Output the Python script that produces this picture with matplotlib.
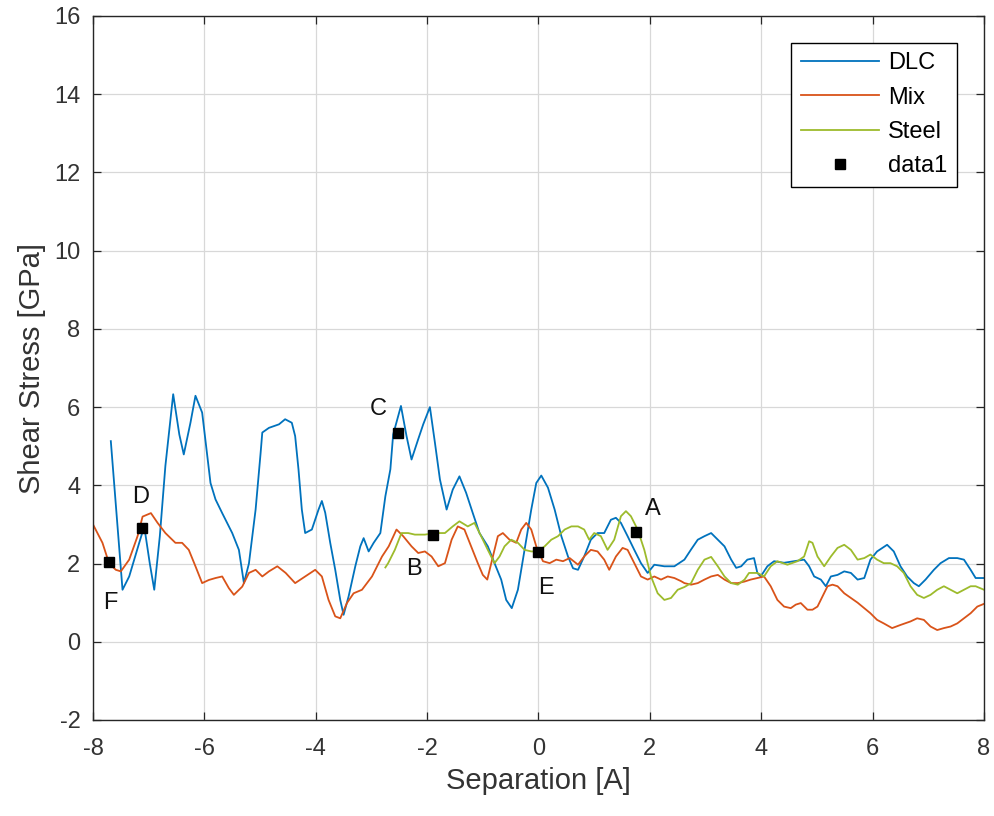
import matplotlib
matplotlib.use("Agg")
import matplotlib.pyplot as plt

plt.rcParams['font.family'] = ['Liberation Sans', 'DejaVu Sans']
plt.rcParams['axes.unicode_minus'] = False

# DLC curve
dlc_x = [-7.68, -7.47, -7.35, -7.17, -7.08, -6.98, -6.90, -6.80, -6.70, -6.56, -6.45, -6.37, -6.25,
         -6.16, -6.04, -5.89, -5.80, -5.68, -5.50, -5.38, -5.29, -5.20, -5.08, -4.99, -4.96, -4.84,
         -4.66, -4.55, -4.43, -4.37, -4.31, -4.25, -4.19, -4.07, -3.95, -3.89, -3.83, -3.74, -3.65,
         -3.56, -3.50, -3.41, -3.29, -3.20, -3.14, -3.05, -2.96, -2.84, -2.75, -2.66, -2.61, -2.47,
         -2.37, -2.28, -2.16, -2.07, -1.95, -1.86, -1.77, -1.65, -1.54, -1.42, -1.30, -1.18, -1.06,
         -0.91, -0.79, -0.67, -0.58, -0.48, -0.37, -0.25, -0.13, -0.04, 0.05, 0.17, 0.29, 0.41,
         0.53, 0.62, 0.71, 0.82, 0.94, 1.06, 1.18, 1.30, 1.39, 1.48, 1.60, 1.72, 1.84, 1.96, 2.08,
         2.26, 2.44, 2.62, 2.74, 2.86, 2.98, 3.10, 3.22, 3.34, 3.46, 3.55, 3.64, 3.75, 3.87, 3.93,
         3.99, 4.11, 4.23, 4.41, 4.59, 4.77, 4.86, 4.95, 5.07, 5.16, 5.25, 5.37, 5.49, 5.61, 5.73,
         5.85, 5.96, 6.08, 6.26, 6.38, 6.50, 6.62, 6.74, 6.83, 6.95, 7.10, 7.22, 7.37, 7.52, 7.64,
         7.76, 7.85, 8.0]
dlc_y = [5.13, 1.33, 1.67, 2.53, 2.95, 2.0, 1.33, 2.7, 4.5, 6.33, 5.3, 4.79, 5.6,
         6.29, 5.86, 4.06, 3.64, 3.29, 2.78, 2.35, 1.5, 2.0, 3.38, 4.83, 5.35, 5.47,
         5.56, 5.69, 5.6, 5.26, 4.41, 3.38, 2.78, 2.87, 3.38, 3.6, 3.3, 2.53, 1.84,
         1.07, 0.69, 1.16, 1.93, 2.44, 2.65, 2.31, 2.53, 2.78, 3.72, 4.41, 5.3, 6.03,
         5.26, 4.66, 5.18, 5.56, 6.0, 5.09, 4.15, 3.38, 3.89, 4.23, 3.81, 3.29, 2.78,
         2.44, 2.01, 1.59, 1.07, 0.86, 1.33, 2.35, 3.38, 4.06, 4.25, 3.94, 3.38, 2.7,
         2.18, 1.88, 1.84, 2.18, 2.61, 2.78, 2.78, 3.12, 3.17, 3.04, 2.7, 2.35, 2.01, 1.76, 1.97,
         1.93, 1.93, 2.1, 2.36, 2.61, 2.7, 2.78, 2.61, 2.44, 2.1, 1.89, 1.93, 2.1, 2.14, 1.76,
         1.67, 1.93, 2.06, 2.02, 2.06, 2.1, 1.93, 1.67, 1.59, 1.42, 1.67, 1.71, 1.8, 1.76, 1.59,
         1.63, 2.1, 2.31, 2.48, 2.31, 1.93, 1.67, 1.5, 1.42, 1.59, 1.84, 2.01, 2.14, 2.14, 2.1,
         1.84, 1.63, 1.63]

# Mix curve
mix_x = [-8.0, -7.83, -7.71, -7.59, -7.50, -7.35, -7.20, -7.11, -6.96, -6.84, -6.70, -6.52, -6.40,
         -6.28, -6.16, -6.04, -5.92, -5.80, -5.68, -5.56, -5.47, -5.32, -5.20, -5.08, -4.96, -4.84,
         -4.69, -4.54, -4.37, -4.19, -4.01, -3.89, -3.77, -3.65, -3.56, -3.44, -3.32, -3.17, -2.99,
         -2.81, -2.69, -2.55, -2.43, -2.28, -2.16, -2.04, -1.92, -1.80, -1.68, -1.56, -1.45, -1.33,
         -1.21, -1.09, -1.00, -0.92, -0.82, -0.73, -0.64, -0.52, -0.40, -0.31, -0.22, -0.13, -0.04,
         0.08, 0.20, 0.32, 0.44, 0.56, 0.71, 0.82, 0.94, 1.06, 1.18, 1.27, 1.39, 1.51, 1.60, 1.72,
         1.84, 1.96, 2.08, 2.20, 2.32, 2.44, 2.56, 2.62, 2.74, 2.86, 2.98, 3.10, 3.22, 3.34, 3.46,
         3.58, 3.70, 3.81, 3.93, 4.05, 4.17, 4.29, 4.41, 4.53, 4.62, 4.71, 4.83, 4.92, 5.01, 5.10,
         5.19, 5.28, 5.37, 5.49, 5.61, 5.73, 5.85, 5.96, 6.08, 6.20, 6.35, 6.50, 6.68, 6.80, 6.92,
         7.04, 7.16, 7.28, 7.40, 7.52, 7.64, 7.76, 7.88, 8.0]
mix_y = [3.0, 2.53, 2.0, 1.84, 1.8, 2.1, 2.7, 3.2, 3.29, 3.04, 2.78, 2.53, 2.53,
         2.35, 1.93, 1.5, 1.58, 1.63, 1.67, 1.37, 1.2, 1.41, 1.76, 1.84, 1.67, 1.8,
         1.93, 1.76, 1.5, 1.67, 1.84, 1.67, 1.07, 0.65, 0.6, 0.99, 1.24, 1.33, 1.67,
         2.18, 2.44, 2.87, 2.7, 2.44, 2.27, 2.31, 2.18, 1.93, 2.01, 2.61, 2.95, 2.87,
         2.44, 2.01, 1.71, 1.59, 2.18, 2.7, 2.78, 2.61, 2.53, 2.87, 3.04, 2.87, 2.44,
         2.06, 2.01, 2.1, 2.06, 2.14, 1.97, 2.18, 2.35, 2.31, 2.1, 1.84, 2.18, 2.4, 2.35, 2.01,
         1.67, 1.59, 1.67, 1.59, 1.67, 1.63, 1.55, 1.5, 1.46, 1.5, 1.59, 1.67, 1.71, 1.59, 1.5,
         1.5, 1.54, 1.59, 1.63, 1.67, 1.42, 1.07, 0.9, 0.86, 0.95, 0.99, 0.82, 0.82, 0.9, 1.16,
         1.42, 1.46, 1.42, 1.24, 1.12, 1.0, 0.86, 0.73, 0.56, 0.47, 0.35, 0.43, 0.52, 0.6, 0.56,
         0.39, 0.3, 0.35, 0.39, 0.47, 0.6, 0.73, 0.9, 0.97]

# Steel curve
steel_x = [-2.75, -2.70, -2.58, -2.46, -2.34, -2.22, -2.04, -1.86, -1.68, -1.54, -1.42, -1.27, -1.15,
           -1.03, -0.91, -0.79, -0.70, -0.61, -0.49, -0.37, -0.25, -0.13, -0.01, 0.11, 0.23, 0.35,
           0.47, 0.59, 0.71, 0.82, 0.91, 1.00, 1.12, 1.24, 1.36, 1.48, 1.57, 1.66, 1.78, 1.90, 2.02,
           2.14, 2.26, 2.38, 2.50, 2.62, 2.74, 2.86, 2.98, 3.10, 3.22, 3.34, 3.46, 3.58, 3.70, 3.78,
           3.93, 4.05, 4.17, 4.29, 4.47, 4.65, 4.77, 4.86, 4.92, 5.01, 5.13, 5.25, 5.37, 5.49, 5.61,
           5.73, 5.85, 5.96, 6.08, 6.20, 6.32, 6.44, 6.56, 6.68, 6.80, 6.92, 7.04, 7.16, 7.28, 7.40,
           7.52, 7.64, 7.76, 7.85, 8.0]
steel_y = [1.9, 2.01, 2.35, 2.78, 2.78, 2.74, 2.74, 2.78, 2.78, 2.95, 3.08, 2.95, 3.04,
           2.7, 2.35, 2.01, 2.18, 2.44, 2.61, 2.53, 2.35, 2.31, 2.31, 2.44, 2.61, 2.7,
           2.87, 2.95, 2.95, 2.87, 2.61, 2.78, 2.7, 2.35, 2.61, 3.21, 3.34, 3.21, 2.87, 2.35, 1.67,
           1.24, 1.07, 1.12, 1.33, 1.4, 1.5, 1.84, 2.1, 2.17, 1.93, 1.67, 1.5, 1.46, 1.59, 1.76,
           1.76, 1.67, 1.93, 2.06, 1.97, 2.06, 2.18, 2.57, 2.53, 2.18, 1.93, 2.18, 2.4, 2.48, 2.35,
           2.1, 2.14, 2.23, 2.1, 2.01, 2.01, 1.93, 1.76, 1.42, 1.2, 1.12, 1.2, 1.33, 1.42, 1.33,
           1.24, 1.33, 1.42, 1.42, 1.33]

# labelled points
pt_names = ['A', 'B', 'C', 'D', 'E', 'F']
pt_x = [1.75, -1.90, -2.52, -7.12, 0.0, -7.72]
pt_y = [2.80, 2.72, 5.33, 2.90, 2.30, 2.03]
# label offsets from the marker, in pixels
pt_off = [(17, 23), (-19, -34), (-20, 24), (-1, 31), (8, -36), (2, -41)]

fig = plt.figure(figsize=(9.95, 8.16), dpi=100)
ax = fig.add_axes([93 / 995, 96 / 816, 891 / 995, 704 / 816])

ax.plot(dlc_x, dlc_y, color='#0072BD', lw=1.3, label='DLC')
ax.plot(mix_x, mix_y, color='#D95319', lw=1.3, label='Mix')
ax.plot(steel_x, steel_y, color='#9DBB2C', lw=1.3, label='Steel')
ax.plot(pt_x, pt_y, 's', color='black', ms=7, label='data1')

for name, x, y, off in zip(pt_names, pt_x, pt_y, pt_off):
    ax.annotate(name, xy=(x, y), xytext=off, textcoords='offset pixels',
                ha='center', va='center', fontsize=17, color='#111111')

ax.set_xlim(-8, 8)
ax.set_ylim(-2, 16)
ax.set_xticks(range(-8, 9, 2))
ax.set_yticks(range(-2, 17, 2))
ax.grid(True, color='#d8d8d8', lw=0.9)
ax.set_axisbelow(True)
ax.tick_params(direction='in', top=True, right=True, length=6, width=0.9,
               labelsize=17, colors='#262626', labelcolor='#333333')
ax.tick_params(axis='x', pad=13)
ax.tick_params(axis='y', pad=9)
for s in ax.spines.values():
    s.set_color('#262626')
    s.set_linewidth(1.0)

ax.set_xlabel('Separation [A]', fontsize=21, color='#333333', labelpad=5)
ax.set_ylabel('Shear Stress [GPa]', fontsize=21, color='#333333', labelpad=6)

leg = ax.legend(loc='upper right', bbox_to_anchor=((957 - 93) / 891, (720 - 43) / 704),
                borderaxespad=0, fancybox=False, edgecolor='black', framealpha=1,
                fontsize=17, handlelength=3.3, numpoints=1, labelspacing=0.52,
                handletextpad=0.4)
leg.get_frame().set_linewidth(1.0)

fig.savefig('out.png', dpi=100, facecolor='white')
